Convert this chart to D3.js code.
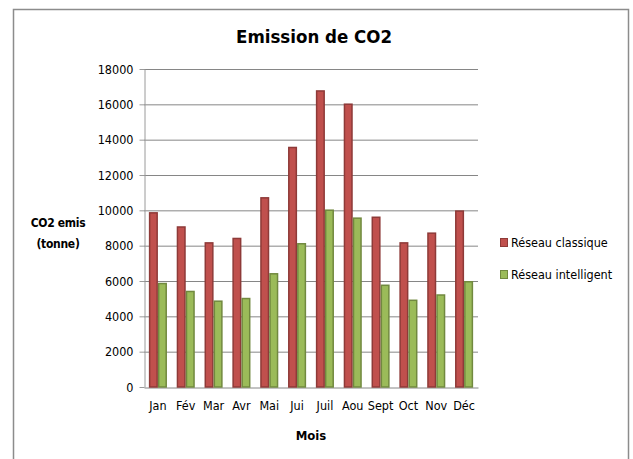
<!DOCTYPE html>
<html><head><meta charset="utf-8">
<script src="https://cdn.jsdelivr.net/npm/d3@7"></script>
<style>body{margin:0;background:#fff}svg{display:block}text{font-family:"Liberation Sans Narrow","DejaVu Sans Condensed",Arial,sans-serif}</style>
</head><body>
<svg id="c" width="633" height="459"></svg>
<script>
const months = ["Jan","Fév","Mar","Avr","Mai","Jui","Juil","Aou","Sept","Oct","Nov","Déc"];
const classique = [9900,9100,8200,8450,10750,13600,16800,16050,9650,8200,8750,10000];
const intelligent = [5900,5450,4900,5050,6450,8150,10050,9600,5800,4950,5250,6000];
const seriesNames = ["Réseau classique","Réseau intelligent"];
const yTicks = [0,2000,4000,6000,8000,10000,12000,14000,16000,18000];

const svg = d3.select("#c");
svg.append("rect").attr("x",13.5).attr("y",9.5).attr("width",615).attr("height",460)
  .attr("fill","#fff").attr("stroke","#8c8c8c").attr("stroke-width",1.5);

const m = {l:144, r:478, t:69, b:387};
const x0 = d3.scaleBand().domain(months).range([m.l,m.r]).paddingInner(0.35).paddingOuter(0.175);
const x1 = d3.scaleBand().domain([0,1]).range([0,x0.bandwidth()]);
const y = d3.scaleLinear().domain([0,18000]).range([m.b,m.t]);

// gridlines
svg.append("g").selectAll("line").data(yTicks.filter(d=>d>0)).join("line")
  .attr("x1",m.l).attr("x2",m.r).attr("y1",d=>y(d)+0.5).attr("y2",d=>y(d)+0.5)
  .attr("stroke","#868686").attr("stroke-width",1);

// y axis
const ya = svg.append("g").attr("transform",`translate(${m.l+0.5},0)`)
  .call(d3.axisLeft(y).tickValues(yTicks).tickSize(5).tickSizeOuter(0).tickFormat(d3.format("d")));
ya.select(".domain").attr("stroke","#9a9a9a");
ya.selectAll(".tick line").attr("stroke","#9a9a9a");
ya.selectAll(".tick text").attr("font-size",12.5).attr("fill","#000").attr("x",-11)
  .style("font-family","'Liberation Sans Narrow','DejaVu Sans Condensed',Arial,sans-serif");

// x axis
const xa = svg.append("g").attr("transform",`translate(0,${m.b+0.5})`)
  .call(d3.axisBottom(x0).tickSize(0).tickSizeOuter(0));
xa.select(".domain").attr("stroke","#868686");
xa.selectAll(".tick text").attr("font-size",12.5).attr("fill","#000").attr("dy","1.55em")
  .style("font-family","'Liberation Sans Narrow','DejaVu Sans Condensed',Arial,sans-serif");

const colors = [{f:"#C0504D",s:"#8E3A38"},{f:"#9BBB59",s:"#71893F"}];
const data = months.map((mo,i)=>({mo, v:[classique[i],intelligent[i]]}));
const g = svg.append("g").selectAll("g").data(data).join("g")
  .attr("transform",d=>`translate(${x0(d.mo)},0)`);
g.selectAll("rect").data(d=>d.v.map((v,k)=>({v,k}))).join("rect")
  .attr("x",d=>x1(d.k)+0.75).attr("width",x1.bandwidth()-1.5)
  .attr("y",d=>y(d.v)+0.75).attr("height",d=>y(0)-y(d.v)-0.75)
  .attr("fill",d=>colors[d.k].f).attr("stroke",d=>colors[d.k].s).attr("stroke-width",1.5);

// titles
svg.append("text").attr("x",314).attr("y",43).attr("text-anchor","middle")
  .attr("font-size",18.5).attr("font-weight","bold").text("Emission de CO2");
svg.append("text").attr("x",311).attr("y",440).attr("text-anchor","middle")
  .attr("font-size",13).attr("font-weight","bold").text("Mois");
svg.append("text").attr("x",58).attr("y",227).attr("text-anchor","middle")
  .attr("font-size",12).attr("font-weight","bold").attr("letter-spacing",-0.3).text("CO2 emis");
svg.append("text").attr("x",58).attr("y",248).attr("text-anchor","middle")
  .attr("font-size",12).attr("font-weight","bold").attr("letter-spacing",-0.3).text("(tonne)");

// legend
const lg = svg.append("g").selectAll("g").data(seriesNames).join("g")
  .attr("transform",(d,i)=>`translate(500,${238+i*32})`);
lg.append("rect").attr("width",7).attr("height",8).attr("x",0.5).attr("y",0.5)
  .attr("fill",(d,i)=>colors[i].f).attr("stroke",(d,i)=>colors[i].s).attr("stroke-width",1);
lg.append("text").attr("x",11).attr("y",9).attr("font-size",12.5).text(d=>d);
</script>
</body></html>
